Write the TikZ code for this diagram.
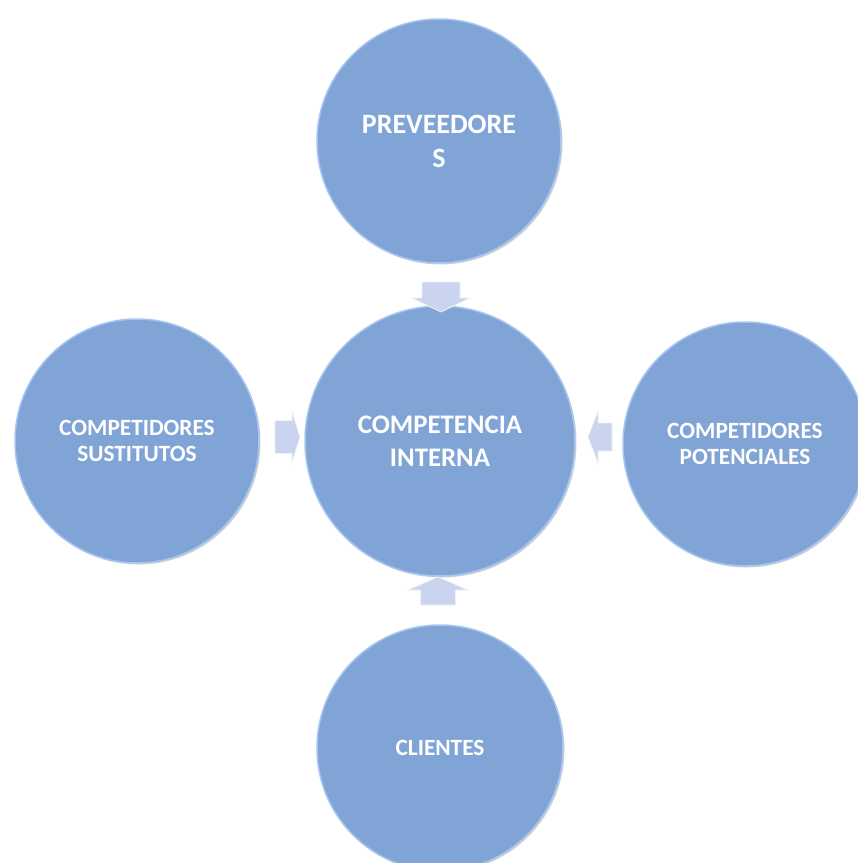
\documentclass[tikz,border=0pt]{standalone}
\usepackage{fontspec}
\setmainfont{Carlito}
\usetikzlibrary{shadows}
\definecolor{circfill}{HTML}{81A4D7}
\definecolor{circrim}{HTML}{A6C5F0}
\definecolor{arrfill}{HTML}{CBD4EF}
\definecolor{arredge}{HTML}{EEF1FA}
\begin{document}
\begin{tikzpicture}[x=1pt,y=-1pt,
  bubble/.style={circle, fill=circfill, draw=circrim, line width=1.5pt, inner sep=0pt,
    text=white, align=center,
    drop shadow={shadow xshift=1.5pt, shadow yshift=-1.5pt, opacity=0.35, fill=gray}},
  toptxt/.style={font=\fontsize{28}{34}\selectfont\bfseries},
  midtxt/.style={font=\fontsize{26.8}{33}\selectfont\bfseries},
  smalltxt/.style={font=\fontsize{23.3}{25.5}\selectfont\bfseries},
  arrowshape/.style={fill=arrfill, draw=arredge, line width=0.8pt, line join=miter}]
\useasboundingbox (0,0) rectangle (858,863);
\fill[white] (0,0) rectangle (858,863);

\node[bubble, toptxt, minimum size=244pt] (prov) at (439,141) {PREVEEDORE\\S};
\node[bubble, midtxt, minimum size=270pt] (comp) at (440,441) {COMPETENCIA\\INTERNA};
\node[bubble, smalltxt, minimum size=244pt] (sust) at (137,441) {COMPETIDORES\\SUSTITUTOS};
\node[bubble, smalltxt, minimum size=244pt] (pot) at (745,444) {COMPETIDORES\\POTENCIALES};
\node[bubble, smalltxt, minimum size=246pt] (cli) at (440,748) {CLIENTES};

\coordinate (adown) at (441,282);
\coordinate (aup) at (438,577);
\coordinate (aright) at (300,437);
\coordinate (aleft) at (588,437);

\draw[arrowshape, shift={(adown)}] (-19,0) -- (19,0) -- (19,16) -- (29,16) -- (0,30) -- (-29,16) -- (-19,16) -- cycle;
\draw[arrowshape, shift={(aup)}] (0,0) -- (30,13) -- (17.5,13) -- (17.5,28) -- (-17.5,28) -- (-17.5,13) -- (-30,13) -- cycle;
\draw[arrowshape, shift={(aright)}] (0,0) -- (-8,-25.5) -- (-8,-16.5) -- (-25,-16.5) -- (-25,16.5) -- (-8,16.5) -- (-8,25.5) -- cycle;
\draw[arrowshape, shift={(aleft)}] (0,0) -- (10,-26) -- (10,-14) -- (24,-14) -- (24,14) -- (10,14) -- (10,26) -- cycle;
\end{tikzpicture}
\end{document}
